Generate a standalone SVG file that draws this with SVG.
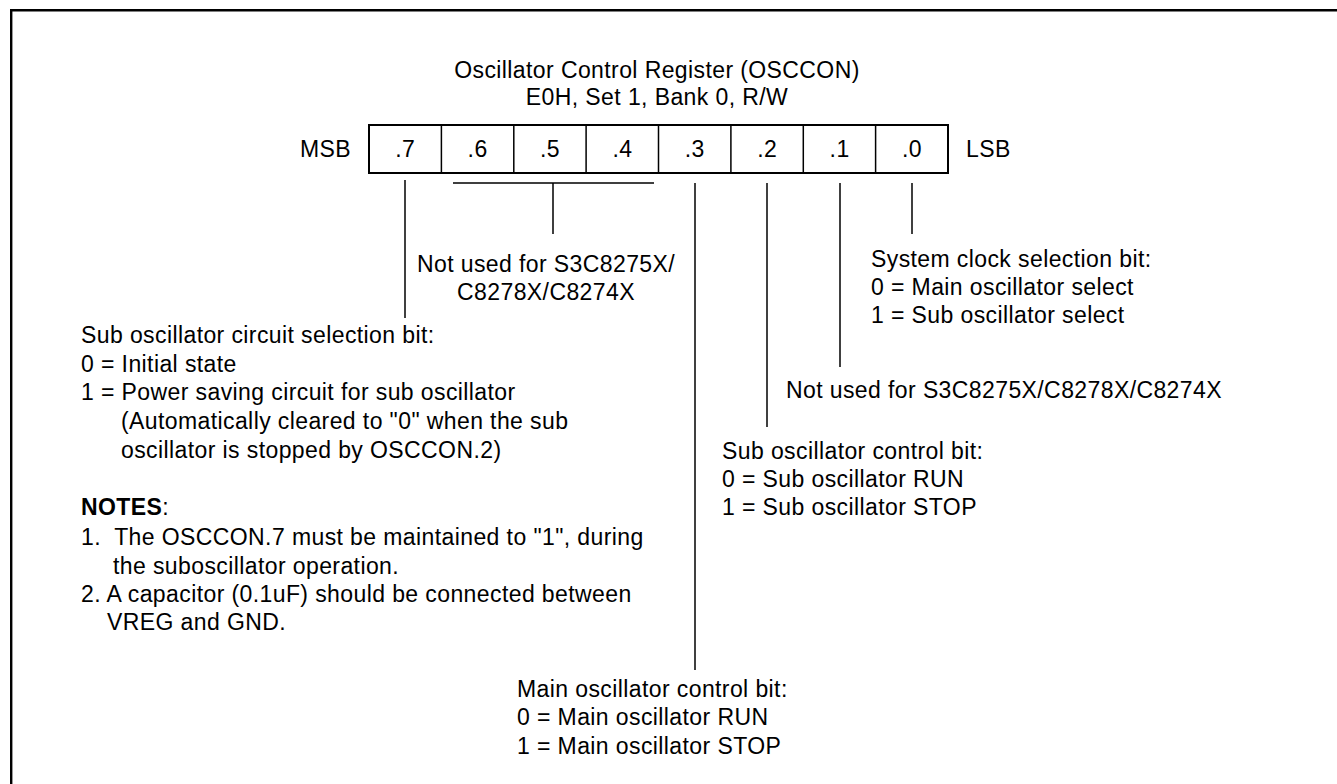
<svg xmlns="http://www.w3.org/2000/svg" width="1337" height="784" viewBox="0 0 1337 784">
<style>
text{font-family:"Liberation Sans",Arial,Helvetica,sans-serif;font-size:23px;letter-spacing:0.4px;fill:#000}
.c{text-anchor:middle}
.b{font-weight:bold}
.ln{stroke:#000;stroke-width:1.5;fill:none}
.frame{stroke:#000;stroke-width:2.4;fill:none}
.box{stroke:#000;stroke-width:2;fill:#fff}
.div{stroke:#000;stroke-width:1.5}
</style>
<rect x="0" y="0" width="1337" height="784" fill="#fff"/>
<path class="frame" d="M11.2 784 V10.2 H1337"/>
<g id="title">
<text class="c" x="657" y="78">Oscillator Control Register (OSCCON)</text>
<text class="c" x="657" y="105">E0H, Set 1, Bank 0, R/W</text>
</g>
<g id="register">
<text x="300" y="157">MSB</text>
<rect class="box" x="369" y="125" width="579" height="48"/>
<path class="div" d="M441.4 125V173M513.8 125V173M586.1 125V173M658.5 125V173M730.9 125V173M803.3 125V173M875.6 125V173"/>
<text class="c" x="405.2" y="157">.7</text>
<text class="c" x="477.6" y="157">.6</text>
<text class="c" x="550" y="157">.5</text>
<text class="c" x="622.4" y="157">.4</text>
<text class="c" x="694.8" y="157">.3</text>
<text class="c" x="767.2" y="157">.2</text>
<text class="c" x="839.6" y="157">.1</text>
<text class="c" x="912" y="157">.0</text>
<text x="966" y="157">LSB</text>
</g>
<g id="connectors">
<path class="ln" d="M405 180V318"/>
<path class="ln" d="M453 183H654M553 183V234"/>
<path class="ln" d="M695 183V670"/>
<path class="ln" d="M767 183V427"/>
<path class="ln" d="M840 183V367"/>
<path class="ln" d="M912 183V234"/>
</g>
<g id="bits654">
<text class="c" x="546" y="272">Not used for S3C8275X/</text>
<text class="c" x="546" y="300">C8278X/C8274X</text>
</g>
<g id="bit0">
<text x="871" y="267">System clock selection bit:</text>
<text x="871" y="295">0 = Main oscillator select</text>
<text x="871" y="323">1 = Sub oscillator select</text>
</g>
<g id="bit1">
<text x="786" y="398">Not used for S3C8275X/C8278X/C8274X</text>
</g>
<g id="bit2">
<text x="722" y="459">Sub oscillator control bit:</text>
<text x="722" y="487">0 = Sub oscillator RUN</text>
<text x="722" y="515">1 = Sub oscillator STOP</text>
</g>
<g id="bit3">
<text x="517" y="697">Main oscillator control bit:</text>
<text x="517" y="725">0 = Main oscillator RUN</text>
<text x="517" y="754">1 = Main oscillator STOP</text>
</g>
<g id="bit7">
<text x="81" y="343">Sub oscillator circuit selection bit:</text>
<text x="81" y="372">0 = Initial state</text>
<text x="81" y="400">1 = Power saving circuit for sub oscillator</text>
<text x="121" y="429">(Automatically cleared to "0" when the sub</text>
<text x="121" y="458">oscillator is stopped by OSCCON.2)</text>
</g>
<g id="notes">
<text x="81" y="515"><tspan class="b">NOTES</tspan>:</text>
<text x="81" y="545" xml:space="preserve">1.  The OSCCON.7 must be maintained to "1", during</text>
<text x="113" y="574">the suboscillator operation.</text>
<text x="81" y="602">2. A capacitor (0.1uF) should be connected between</text>
<text x="107" y="630">VREG and GND.</text>
</g>
</svg>
